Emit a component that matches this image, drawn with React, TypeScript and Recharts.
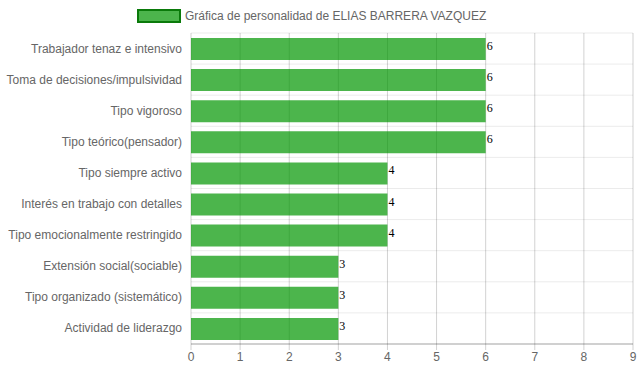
import React from "react";
import {
  BarChart,
  Bar,
  XAxis,
  YAxis,
  CartesianGrid,
  LabelList,
} from "recharts";

const SERIES_NAME = "Gráfica de personalidad de ELIAS BARRERA VAZQUEZ";

const TRAITS = [
  "Trabajador tenaz e intensivo",
  "Toma de decisiones/impulsividad",
  "Tipo vigoroso",
  "Tipo teórico(pensador)",
  "Tipo siempre activo",
  "Interés en trabajo con detalles",
  "Tipo emocionalmente restringido",
  "Extensión social(sociable)",
  "Tipo organizado (sistemático)",
  "Actividad de liderazgo",
];

const SCORES = [6, 6, 6, 6, 4, 4, 4, 3, 3, 3];

const X_TICKS = [0, 1, 2, 3, 4, 5, 6, 7, 8, 9];

const FONT = '"Liberation Sans", Arial, Helvetica, sans-serif';

const rows = TRAITS.map((name, i) => ({ name, value: SCORES[i] }));

// one-line category labels, right aligned against the plot
const TraitTick = (props: any) => {
  const { x, y, payload } = props;
  return (
    <text
      x={x}
      y={y}
      dy={4}
      textAnchor="end"
      fontSize={12}
      fontFamily={FONT}
      fill="#666"
    >
      {payload.value}
    </text>
  );
};

// value label just past the end of each bar, like the original canvas text
const ValueLabel = (props: any) => {
  const { x, y, width, value } = props;
  return (
    <text
      x={x + width + 1}
      y={y + 12}
      fontSize={12}
      fontFamily='"Liberation Serif", "Times New Roman", serif'
      fill="#000"
      textAnchor="start"
    >
      {value}
    </text>
  );
};

export default function App() {
  return (
    <div
      style={{
        position: "relative",
        width: 639,
        height: 372,
        background: "#fff",
        fontFamily: FONT,
      }}
    >
      <style>{`body { margin: 0; }`}</style>
      <div
        style={{
          position: "absolute",
          top: 9,
          left: 137,
          display: "flex",
          alignItems: "center",
          zIndex: 1,
        }}
      >
        <span
          style={{
            width: 40,
            height: 10,
            background: "rgba(0,150,0,0.7)",
            border: "2px solid #0a7a0a",
            display: "inline-block",
          }}
        />
        <span style={{ marginLeft: 4, fontSize: 12, color: "#666" }}>
          {SERIES_NAME}
        </span>
      </div>
      <BarChart
        width={639}
        height={372}
        data={rows}
        layout="vertical"
        margin={{ top: 33, right: 6, bottom: 0, left: 0 }}
        barSize={22}
        style={{ overflow: "visible" }}
      >
        <CartesianGrid
          horizontal={false}
          stroke="rgba(0,0,0,0.18)"
          strokeWidth={1}
        />
        <CartesianGrid
          vertical={false}
          stroke="rgba(0,0,0,0.08)"
          horizontalCoordinatesGenerator={({ offset }: any) =>
            TRAITS.map((_, i) => offset.top + (i * offset.height) / TRAITS.length).concat([
              offset.top + offset.height,
            ])
          }
        />
        <XAxis
          type="number"
          domain={[0, 9]}
          ticks={X_TICKS}
          interval={0}
          height={28}
          tickSize={6}
          tickMargin={2}
          axisLine={{ stroke: "rgba(0,0,0,0.3)" }}
          tickLine={{ stroke: "rgba(0,0,0,0.18)" }}
          tick={{ fontSize: 12, fill: "#666", fontFamily: FONT }}
        />
        <YAxis
          type="category"
          dataKey="name"
          width={191}
          tickSize={0}
          tickMargin={9}
          axisLine={false}
          tickLine={false}
          interval={0}
          tick={<TraitTick />}
        />
        <Bar
          dataKey="value"
          name={SERIES_NAME}
          fill="rgba(0,150,0,0.7)"
          isAnimationActive={false}
        >
          <LabelList dataKey="value" content={ValueLabel} />
        </Bar>
      </BarChart>
    </div>
  );
}
